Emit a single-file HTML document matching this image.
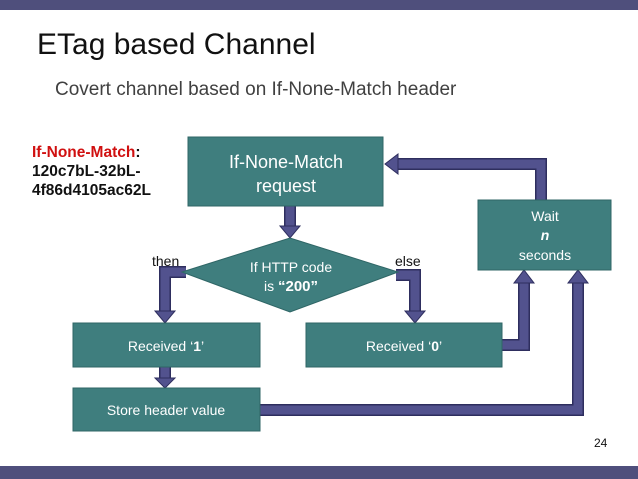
<!DOCTYPE html>
<html><head><style>
body{margin:0;width:638px;height:479px;background:#fff;overflow:hidden}
svg{display:block}
text{font-family:"Liberation Sans",sans-serif}
</style></head><body>
<svg width="638" height="479" viewBox="0 0 638 479">
<rect x="0" y="0" width="638" height="10" fill="#4f4f7c"/>
<rect x="0" y="466" width="638" height="13" fill="#4f4f7c"/>
<text x="37" y="54" font-size="30" fill="#111">ETag based Channel</text>
<text x="55" y="95" font-size="19" fill="#404040">Covert channel based on If-None-Match header</text>
<text x="32" y="157" font-size="15.5" font-weight="bold" fill="#111"><tspan fill="#d01010">If-None-Match</tspan>:</text>
<text x="32" y="176" font-size="15.5" font-weight="bold" fill="#111">120c7bL-32bL-</text>
<text x="32" y="195" font-size="15.5" font-weight="bold" fill="#111">4f86d4105ac62L</text>
<g fill="none" stroke-linejoin="miter">
<g stroke="#2e2e5e" stroke-width="12">
<polyline points="290,206 290,228"/>
<polyline points="186,272 165,272 165,313"/>
<polyline points="396,275 415,275 415,313"/>
<polyline points="502,345 524,345 524,282"/>
<polyline points="541,200 541,164 397,164"/>
<polyline points="165,367 165,380"/>
<polyline points="260,410 578,410 578,282"/>
</g>
<g stroke="#52528e" stroke-width="9">
<polyline points="290,206 290,228"/>
<polyline points="186,272 165,272 165,313"/>
<polyline points="396,275 415,275 415,313"/>
<polyline points="502,345 524,345 524,282"/>
<polyline points="541,200 541,164 397,164"/>
<polyline points="165,367 165,380"/>
<polyline points="260,410 578,410 578,282"/>
</g>
</g>
<g fill="#52528e" stroke="#2e2e5e" stroke-width="1">
<polygon points="280,226 300,226 290,238"/>
<polygon points="155,311 175,311 165,323"/>
<polygon points="405,311 425,311 415,323"/>
<polygon points="514,283 534,283 524,270"/>
<polygon points="568,283 588,283 578,270"/>
<polygon points="398,154 398,174 385,164"/>
<polygon points="155,378 175,378 165,388"/>
</g>
<g fill="#3f7e7e" stroke="#2f6666" stroke-width="1">
<rect x="188" y="137" width="195" height="69"/>
<polygon points="182,272 290,238 398,272 290,312"/>
<rect x="478" y="200" width="133" height="70"/>
<rect x="73" y="323" width="187" height="44"/>
<rect x="306" y="323" width="196" height="44"/>
<rect x="73" y="388" width="187" height="43"/>
</g>
<g fill="#fff" text-anchor="middle">
<text x="286" y="168" font-size="18">If-None-Match</text>
<text x="286" y="192" font-size="18">request</text>
<text x="291" y="272" font-size="14">If HTTP code</text>
<text x="291" y="291" font-size="14">is <tspan font-weight="bold" font-size="15">“200”</tspan></text>
<text x="545" y="221" font-size="14">Wait</text>
<text x="545" y="240" font-size="14" font-weight="bold" font-style="italic">n</text>
<text x="545" y="260" font-size="14">seconds</text>
<text x="166" y="351" font-size="14">Received ‘<tspan font-weight="bold">1</tspan>’</text>
<text x="404" y="351" font-size="14">Received ‘<tspan font-weight="bold">0</tspan>’</text>
<text x="166" y="415" font-size="14">Store header value</text>
</g>
<text x="152" y="266" font-size="14" fill="#111">then</text>
<text x="395" y="266" font-size="14" fill="#111">else</text>
<text x="594" y="447" font-size="12" fill="#111">24</text>
</svg>
</body></html>
